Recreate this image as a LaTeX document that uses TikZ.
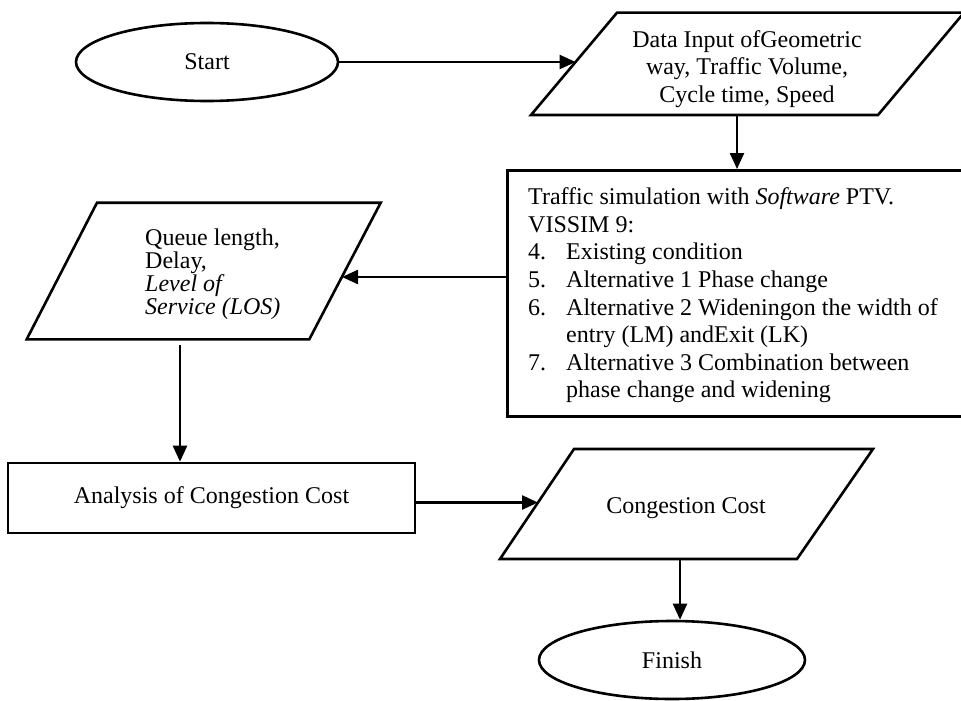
\documentclass[tikz,border=0pt]{standalone}
\usepackage{fontspec}
\setmainfont{Liberation Serif}
\usetikzlibrary{shapes.geometric,arrows.meta,calc}
\begin{document}
\begin{tikzpicture}[x=1pt,y=-1pt,
  shp/.style={draw=black,line width=2.6pt,line join=miter},
  conn/.style={draw=black,line width=2.4pt,-{Triangle[length=16pt,width=14pt]}},
  txt/.style={font=\fontsize{24}{27.6}\selectfont,inner sep=0pt},
  term/.style={shp,ellipse,minimum width=262pt,minimum height=78pt,inner sep=0pt,font=\fontsize{24}{27.6}\selectfont},
]
\useasboundingbox (0,0) rectangle (961,701);

% Start
\node[term] (start) at (207,62) {Start};

% Data input parallelogram
\coordinate (dTL) at (617,12.7);
\coordinate (dTR) at (964,12.7);
\coordinate (dBR) at (878,115);
\coordinate (dBL) at (531,115);
\draw[shp] (dTL) -- (dTR) -- (dBR) -- (dBL) -- cycle;
\node[txt,align=center] (data) at (747,69) {Data Input ofGeometric\\way, Traffic Volume,\\Cycle time, Speed};

% Simulation box
\node[shp,rectangle,minimum width=456pt,minimum height=246pt,anchor=north west,inner sep=0pt] (sim) at (506,169) {};
\node[txt,align=left,anchor=west] (simtxt) at (528,295.5) {Traffic simulation with \textit{Software} PTV.\\
VISSIM 9:\\
\makebox[38pt][l]{4.}Existing condition\\
\makebox[38pt][l]{5.}Alternative 1 Phase change\\
\makebox[38pt][l]{6.}Alternative 2 Wideningon the width of\\
\hspace*{38pt}entry (LM) andExit (LK)\\
\makebox[38pt][l]{7.}Alternative 3 Combination between\\
\hspace*{38pt}phase change and widening};

% Queue parallelogram
\coordinate (qTL) at (97,202.7);
\coordinate (qTR) at (380.7,202.7);
\coordinate (qBR) at (309.3,339.3);
\coordinate (qBL) at (26.7,339.3);
\draw[shp] (qTL) -- (qTR) -- (qBR) -- (qBL) -- cycle;
\node[font=\fontsize{24}{23}\selectfont,inner sep=0pt,align=left,anchor=west] (queue) at (145,274) {Queue length,\\Delay,\\\textit{Level of}\\\textit{Service (LOS)}};

% Analysis box
\node[shp,rectangle,minimum width=407pt,minimum height=70pt,txt] (ana) at (211.5,498) {Analysis of Congestion Cost};

% Congestion cost parallelogram
\coordinate (cTL) at (574,449);
\coordinate (cTR) at (873,449);
\coordinate (cBR) at (797,559);
\coordinate (cBL) at (500,559);
\draw[shp] (cTL) -- (cTR) -- (cBR) -- (cBL) -- cycle;
\node[txt] (cc) at (686,508) {Congestion Cost};

% Finish
\node[term,minimum width=266pt] (fin) at (672,660) {Finish};

% Connectors
\coordinate (dIn) at (575.6,62);
\draw[conn] (start.east) -- (dIn);
\coordinate (dOut) at (737,115);
\draw[conn] (dOut) -- (dOut |- sim.north);
\coordinate (qIn) at (342,277);
\draw[conn] (sim.west |- qIn) -- (qIn);
\coordinate (qOut) at (180,345);
\draw[conn] (qOut) -- (qOut |- ana.north);
\coordinate (cIn) at (538,502.5);
\draw[conn] (ana.east |- cIn) -- (cIn);
\coordinate (cOut) at (680,559);
\draw[conn] (cOut) -- (cOut |- fin.north);
\end{tikzpicture}
\end{document}
